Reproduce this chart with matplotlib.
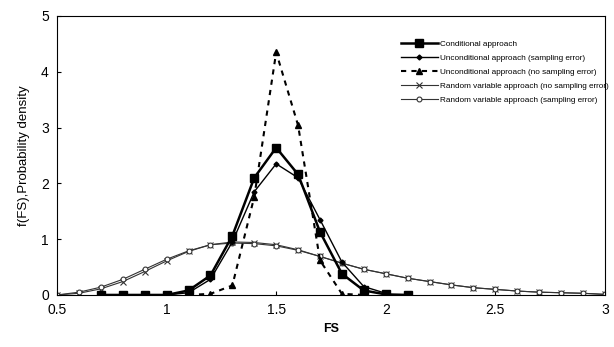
import matplotlib
matplotlib.use("Agg")
import matplotlib.pyplot as plt

plt.rcParams['font.family'] = ['Liberation Sans', 'DejaVu Sans']

# Data
fs_cond = [0.7, 0.8, 0.9, 1.0, 1.1, 1.2, 1.3, 1.4, 1.5, 1.6, 1.7, 1.8, 1.9, 2.0, 2.1]
cond = [0.0, 0.0, 0.0, 0.0, 0.08, 0.35, 1.06, 2.1, 2.64, 2.16, 1.13, 0.38, 0.08, 0.01, 0.0]

fs_unc = [1.0, 1.1, 1.2, 1.3, 1.4, 1.5, 1.6, 1.7, 1.8, 1.9, 2.0]
unc_se = [0.0, 0.04, 0.28, 0.95, 1.85, 2.35, 2.1, 1.35, 0.59, 0.15, 0.03]

fs_unc_nse = [1.1, 1.2, 1.3, 1.4, 1.5, 1.6, 1.7, 1.8, 1.9]
unc_nse = [0.0, 0.02, 0.17, 1.76, 4.35, 3.04, 0.62, 0.02, 0.0]

fs_rv = [0.5, 0.6, 0.7, 0.8, 0.9, 1.0, 1.1, 1.2, 1.3, 1.4, 1.5, 1.6, 1.7,
         1.8, 1.9, 2.0, 2.1, 2.2, 2.3, 2.4, 2.5, 2.6, 2.7, 2.8, 2.9, 3.0]
rv_nse = [0.0, 0.03, 0.11, 0.24, 0.42, 0.61, 0.78, 0.9, 0.95, 0.94, 0.9, 0.81, 0.69,
          0.57, 0.46, 0.38, 0.3, 0.24, 0.18, 0.13, 0.1, 0.07, 0.05, 0.04, 0.03, 0.01]
rv_se = [0.0, 0.05, 0.14, 0.28, 0.46, 0.64, 0.79, 0.9, 0.93, 0.92, 0.88, 0.8, 0.69,
         0.57, 0.46, 0.38, 0.3, 0.24, 0.18, 0.13, 0.1, 0.07, 0.05, 0.04, 0.03, 0.01]

labels = ["Conditional approach",
          "Unconditional approach (sampling error)",
          "Unconditional approach (no sampling error)",
          "Random variable approach (no sampling error)",
          "Random variable approach (sampling error)"]

fig = plt.figure(figsize=(6.14, 3.47), dpi=100)
ax = fig.add_axes([0.093, 0.150, 0.892, 0.804])

ax.plot(fs_rv, rv_nse, color='#333333', lw=0.8, marker='x', ms=4, mew=0.8,
        label=labels[3], zorder=2)
ax.plot(fs_rv, rv_se, color='#333333', lw=0.8, marker='o', ms=3.5, mfc='white',
        mew=0.8, label=labels[4], zorder=2)
ax.plot(fs_unc_nse, unc_nse, color='black', lw=1.5, ls=(0, (2.5, 2.5)), marker='^',
        ms=4, label=labels[2], zorder=3)
ax.plot(fs_unc, unc_se, color='black', lw=1.0, marker='D', ms=2.5,
        label=labels[1], zorder=3)
ax.plot(fs_cond, cond, color='black', lw=1.8, marker='s', ms=6,
        label=labels[0], zorder=4)

ax.set_xlim(0.5, 3)
ax.set_ylim(0, 5)
ax.set_xticks([0.5, 1, 1.5, 2, 2.5, 3])
ax.set_xticklabels(['0.5', '1', '1.5', '2', '2.5', '3'])
ax.set_yticks([0, 1, 2, 3, 4, 5])
ax.tick_params(direction='in', length=3, width=0.8, labelsize=10, pad=6)
for s in ax.spines.values():
    s.set_linewidth(0.8)

ax.set_xlabel('FS', fontsize=9, fontweight='bold', labelpad=4)
ax.set_ylabel('f(FS),Probability density', fontsize=9.5, labelpad=8)

h, l = ax.get_legend_handles_labels()
order = [4, 3, 2, 0, 1]
ax.legend([h[i] for i in order], [l[i] for i in order], loc='upper right',
          bbox_to_anchor=(609 / 614, 1 - 40 / 347), bbox_transform=fig.transFigure,
          frameon=False, fontsize=5.9, borderaxespad=0, borderpad=0,
          handlelength=4.6, handletextpad=0.25, labelspacing=0.78)

fig.savefig('out.png', dpi=100)
